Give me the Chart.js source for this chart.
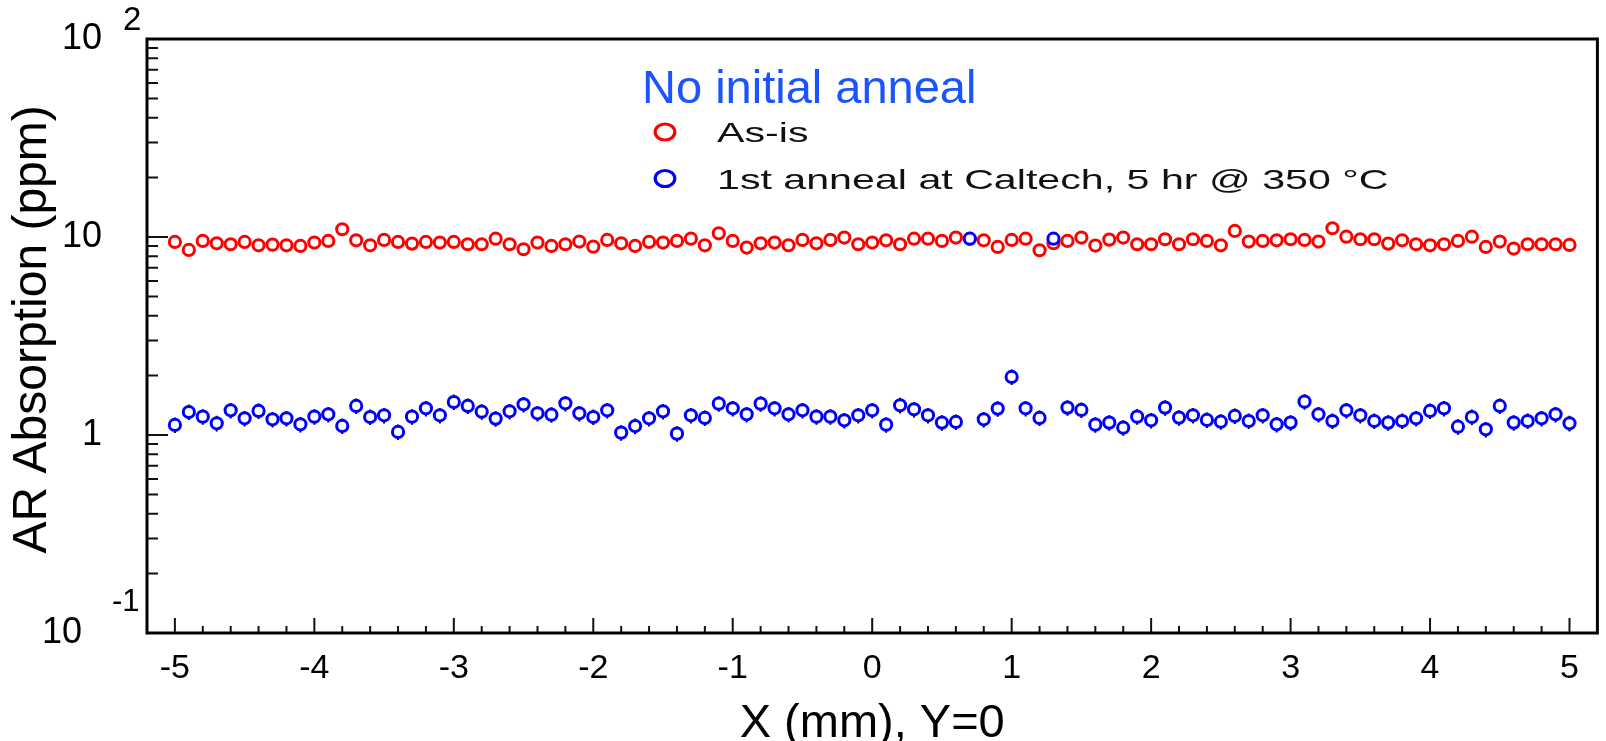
<!DOCTYPE html>
<html lang="en">
<head>
<meta charset="UTF-8">
<title>AR Absorption vs X</title>
<script src="https://cdn.jsdelivr.net/npm/chart.js"></script>
<style>
  body { margin: 0; background: #fff; }
</style>
</head>
<body>
<canvas id="grafico" width="1606" height="741"></canvas>
<script>
// positions along X (mm), Y=0
const xPos = [
  -5.0, -4.9, -4.8, -4.7, -4.6, -4.5, -4.4, -4.3, -4.2, -4.1,
  -4.0, -3.9, -3.8, -3.7, -3.6, -3.5, -3.4, -3.3, -3.2, -3.1,
  -3.0, -2.9, -2.8, -2.7, -2.6, -2.5, -2.4, -2.3, -2.2, -2.1,
  -2.0, -1.9, -1.8, -1.7, -1.6, -1.5, -1.4, -1.3, -1.2, -1.1,
  -1.0, -0.9, -0.8, -0.7, -0.6, -0.5, -0.4, -0.3, -0.2, -0.1,
  0.0, 0.1, 0.2, 0.3, 0.4, 0.5, 0.6, 0.7, 0.8, 0.9,
  1.0, 1.1, 1.2, 1.3, 1.4, 1.5, 1.6, 1.7, 1.8, 1.9,
  2.0, 2.1, 2.2, 2.3, 2.4, 2.5, 2.6, 2.7, 2.8, 2.9,
  3.0, 3.1, 3.2, 3.3, 3.4, 3.5, 3.6, 3.7, 3.8, 3.9,
  4.0, 4.1, 4.2, 4.3, 4.4, 4.5, 4.6, 4.7, 4.8, 4.9,
  5.0
];

// absorption (ppm), as-is
const asIs = [
  9.44, 8.60, 9.55, 9.29, 9.19, 9.44, 9.08, 9.15, 9.08, 9.01,
  9.37, 9.55, 10.94, 9.62, 9.08, 9.66, 9.44, 9.26, 9.44, 9.37,
  9.44, 9.19, 9.19, 9.81, 9.19, 8.67, 9.37, 9.01, 9.19, 9.48,
  8.94, 9.66, 9.29, 9.01, 9.44, 9.37, 9.55, 9.81, 9.08, 10.44,
  9.55, 8.84, 9.29, 9.37, 9.08, 9.66, 9.29, 9.66, 9.93, 9.19,
  9.37, 9.62, 9.19, 9.81, 9.81, 9.55, 9.93, 9.80, 9.62, 8.91,
  9.66, 9.81, 8.57, 9.30, 9.55, 9.93, 9.05, 9.70, 9.93, 9.19,
  9.19, 9.74, 9.19, 9.74, 9.55, 9.08, 10.73, 9.48, 9.55, 9.62,
  9.74, 9.66, 9.48, 11.07, 10.04, 9.74, 9.74, 9.26, 9.62, 9.19,
  9.08, 9.19, 9.55, 10.04, 8.91, 9.48, 8.74, 9.19, 9.19, 9.19,
  9.12
];

// absorption (ppm), after 1st anneal
const annealed = [
  1.124, 1.307, 1.238, 1.146, 1.332, 1.214, 1.323, 1.200, 1.214, 1.132,
  1.238, 1.272, 1.111, 1.402, 1.233, 1.257, 1.036, 1.238, 1.364, 1.257,
  1.468, 1.402, 1.312, 1.210, 1.317, 1.429, 1.287, 1.267, 1.446, 1.287,
  1.233, 1.332, 1.028, 1.110, 1.214, 1.317, 1.016, 1.257, 1.219, 1.440,
  1.364, 1.272, 1.440, 1.364, 1.272, 1.332, 1.238, 1.238, 1.186, 1.257,
  1.332, 1.128, 1.413, 1.348, 1.257, 1.155, 1.164, 9.81, 1.200, 1.359,
  1.964, 1.364, 1.219, 9.81, 1.375, 1.338, 1.128, 1.155, 1.089, 1.238,
  1.186, 1.375, 1.224, 1.257, 1.191, 1.168, 1.248, 1.177, 1.257, 1.132,
  1.155, 1.474, 1.272, 1.177, 1.332, 1.257, 1.177, 1.155, 1.177, 1.214,
  1.323, 1.364, 1.102, 1.233, 1.068, 1.402, 1.155, 1.177, 1.214, 1.272,
  1.146
];
const annealRelErr = 0.09;

const seriesNames = ['As-is', '1st anneal at Caltech, 5 hr @ 350 \u00B0C'];
const legendHeading = 'No initial anneal';

const xTicks = [-5, -4, -3, -2, -1, 0, 1, 2, 3, 4, 5];
const yTicks = [0.1, 1, 10, 100];
const yTickLabels = ['10  ', '1', '10', '10'];
const yExponents = ['-1', '', '', '2'];

const FONT = '"Liberation Sans", Arial, Helvetica, sans-serif';
Chart.defaults.font.family = FONT;
Chart.defaults.color = '#000';

// black error bars on the annealed points, drawn under the hollow markers
const errorBars = {
    id: 'errorBars',
    beforeDatasetsDraw(chart) {
        const ctx = chart.ctx;
        const ys = chart.scales.y;
        const meta = chart.getDatasetMeta(1);
        ctx.save();
        ctx.strokeStyle = '#000';
        ctx.lineWidth = 2;
        ctx.beginPath();
        meta.data.forEach((pt, i) => {
            const v = annealed[i];
            if (v > 5) return;
            ctx.moveTo(pt.x, ys.getPixelForValue(v * (1 + annealRelErr)));
            ctx.lineTo(pt.x, ys.getPixelForValue(v * (1 - annealRelErr)));
        });
        ctx.stroke();
        ctx.restore();
    }
};

// ROOT-like frame with inward ticks, exponents and the legend box
const rootFrame = {
    id: 'rootFrame',
    afterDraw(chart) {
        const ctx = chart.ctx;
        const a = chart.chartArea;
        const xs = chart.scales.x;
        const ys = chart.scales.y;
        ctx.save();

        ctx.strokeStyle = '#111';
        ctx.lineWidth = 2;
        ctx.beginPath();
        for (let k = -25; k <= 25; k++) {
            const px = xs.getPixelForValue(k / 5);
            const len = (k % 5 === 0) ? 15 : 7;
            ctx.moveTo(px, a.bottom);
            ctx.lineTo(px, a.bottom - len);
        }
        for (let d = -1; d <= 1; d++) {
            for (let m = 1; m <= 9; m++) {
                const py = ys.getPixelForValue(m * Math.pow(10, d));
                ctx.moveTo(a.left, py);
                ctx.lineTo(a.left + (m === 1 ? 21 : 11), py);
            }
        }
        ctx.stroke();

        ctx.lineWidth = 3;
        ctx.strokeStyle = '#000';
        ctx.strokeRect(a.left, a.top, a.right - a.left, a.bottom - a.top);

        // exponents of the 10^n labels
        ctx.fillStyle = '#000';
        ctx.textBaseline = 'middle';
        ctx.textAlign = 'left';
        ctx.font = '33px ' + FONT;
        ctx.fillText(yExponents[3], a.left - 24, ys.getPixelForValue(yTicks[3]) - 18);
        ctx.font = '31px ' + FONT;
        ctx.fillText(yExponents[0], a.left - 35, ys.getPixelForValue(yTicks[0]) - 31);

        // legend
        ctx.textBaseline = 'alphabetic';
        ctx.fillStyle = '#1a53ff';
        ctx.font = '47px ' + FONT;
        ctx.fillText(legendHeading, 642, 103);

        const colors = ['#ff0000', '#0000ff'];
        seriesNames.forEach((name, i) => {
            const cy = 132 + i * 46.5;
            ctx.strokeStyle = colors[i];
            ctx.lineWidth = 3.2;
            ctx.beginPath();
            ctx.ellipse(665, cy, 9.8, 8, 0, 0, Math.PI * 2);
            ctx.stroke();
            ctx.save();
            ctx.translate(717, cy + 10);
            ctx.scale(1.47, 1);
            ctx.fillStyle = '#111';
            ctx.font = '28px ' + FONT;
            ctx.fillText(name, 0, 0);
            ctx.restore();
        });

        ctx.restore();
    }
};

const ctx = document.getElementById('grafico').getContext('2d');
new Chart(ctx, {
    type: 'scatter',
    data: {
        datasets: [{
            label: seriesNames[0],
            data: xPos.map((x, i) => ({ x: x, y: asIs[i] })),
            borderColor: '#ff0000',
            backgroundColor: '#ffffff',
            pointRadius: 5.6,
            pointBorderWidth: 3,
            order: 2
        }, {
            label: seriesNames[1],
            data: xPos.map((x, i) => ({ x: x, y: annealed[i] })),
            borderColor: '#0000ff',
            backgroundColor: '#ffffff',
            pointRadius: 5.6,
            pointBorderWidth: 3,
            order: 1
        }]
    },
    options: {
        responsive: false,
        animation: false,
        events: [],
        layout: { padding: { top: 39, right: 3, left: 0, bottom: 0 } },
        plugins: {
            legend: { display: false },
            tooltip: { enabled: false }
        },
        scales: {
            x: {
                type: 'linear',
                min: -5.2,
                max: 5.2,
                grid: { display: false },
                border: { display: false },
                afterBuildTicks: (scale) => { scale.ticks = xTicks.map(v => ({ value: v })); },
                afterFit: (scale) => {
                    scale.height = 108;
                    scale.paddingLeft = 0;
                    scale.paddingRight = 0;
                },
                ticks: {
                    font: { size: 34 },
                    padding: 7,
                    maxRotation: 0,
                    callback: (v) => String(v)
                },
                title: {
                    display: true,
                    text: 'X (mm), Y=0',
                    font: { size: 47, lineHeight: 0.74 },
                    padding: 0
                }
            },
            y: {
                type: 'logarithmic',
                min: 0.1,
                max: 100,
                grid: { display: false },
                border: { display: false },
                afterBuildTicks: (scale) => { scale.ticks = yTicks.map(v => ({ value: v })); },
                afterFit: (scale) => {
                    scale.width = 147;
                    scale.paddingTop = 0;
                    scale.paddingBottom = 0;
                },
                ticks: {
                    font: { size: 36 },
                    padding: 37,
                    callback: (v) => yTickLabels[yTicks.indexOf(v)]
                },
                title: {
                    display: true,
                    text: ' AR Absorption (ppm)',
                    font: { size: 48 },
                    padding: { top: 4 }
                }
            }
        }
    },
    plugins: [errorBars, rootFrame]
});
</script>
</body>
</html>
